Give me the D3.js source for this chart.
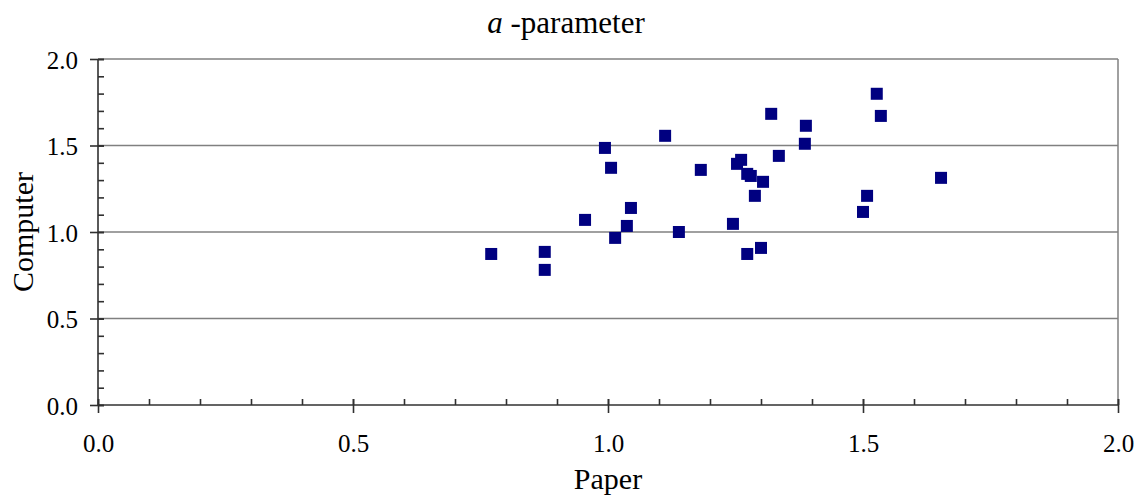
<!DOCTYPE html>
<html>
<head>
<meta charset="utf-8">
<script src="https://cdn.jsdelivr.net/npm/d3@7"></script>
<style>
  html, body { margin: 0; padding: 0; background: #fff; }
  svg { display: block; }
  svg text { font-family: 'Liberation Serif', 'Times New Roman', serif !important; fill: #000; }
</style>
</head>
<body>
<svg id="chart" width="1141" height="502"></svg>
<script>
// a-parameter estimates: paper-based vs computer-based
const paperValues = [
  0.771, 0.876, 0.876, 0.955, 0.994, 1.006, 1.014, 1.037, 1.045, 1.112,
  1.139, 1.182, 1.245, 1.253, 1.261, 1.273, 1.280, 1.304, 1.288, 1.273,
  1.300, 1.320, 1.335, 1.388, 1.386, 1.527, 1.535, 1.508, 1.500, 1.653
];
const computerValues = [
  0.873, 0.885, 0.781, 1.070, 1.486, 1.371, 0.966, 1.035, 1.139, 1.556,
  1.000, 1.359, 1.047, 1.394, 1.417, 1.336, 1.324, 1.290, 1.209, 0.873,
  0.908, 1.683, 1.440, 1.614, 1.510, 1.799, 1.671, 1.209, 1.116, 1.313
];
const majorTicks = [0.0, 0.5, 1.0, 1.5, 2.0];
const minorTicks = d3.range(0, 21).map(i => i / 10);
const titleItalic = "a";
const titleRest = " -parameter";
const xTitle = "Paper";
const yTitle = "Computer";

const svg = d3.select("#chart");
const plotLeft = 98, plotRight = 1118, plotTop = 59, plotBottom = 405;

const x = d3.scaleLinear().domain([0, 2]).range([plotLeft, plotRight]);
const y = d3.scaleLinear().domain([0, 2]).range([plotBottom, plotTop]);

const gridColor = "#808080";
const axisColor = "#303030";

// horizontal gridlines (skip the baseline)
svg.append("g").selectAll("line")
  .data(majorTicks.filter(d => d > 0))
  .join("line")
  .attr("x1", x(0)).attr("x2", x(2))
  .attr("y1", d => y(d)).attr("y2", d => y(d))
  .attr("stroke", gridColor).attr("stroke-width", 1.5);

// right frame edge
svg.append("line")
  .attr("x1", x(2)).attr("x2", x(2))
  .attr("y1", y(2)).attr("y2", y(0))
  .attr("stroke", gridColor).attr("stroke-width", 1.5);

// x axis: minor ticks point inward, major ticks cross the line
const xAxisMinor = d3.axisTop(x).tickValues(minorTicks).tickSize(6).tickFormat("");
const gxMinor = svg.append("g").attr("transform", `translate(0,${y(0)})`).call(xAxisMinor);
gxMinor.select(".domain").remove();

const xAxis = d3.axisBottom(x).tickValues(majorTicks).tickSize(8).tickPadding(21)
  .tickFormat(d3.format(".1f"));
const gx = svg.append("g").attr("transform", `translate(0,${y(0)})`).call(xAxis);
gx.select(".domain").attr("d", `M${x(0)},0H${x(2)}`);

// y axis
const yAxisMinor = d3.axisRight(y).tickValues(minorTicks).tickSize(6).tickFormat("");
const gyMinor = svg.append("g").attr("transform", `translate(${x(0)},0)`).call(yAxisMinor);
gyMinor.select(".domain").remove();

const yAxis = d3.axisLeft(y).tickValues(majorTicks).tickSize(8).tickPadding(12)
  .tickFormat(d3.format(".1f"));
const gy = svg.append("g").attr("transform", `translate(${x(0)},0)`).call(yAxis);
gy.select(".domain").attr("d", `M0,${y(0)}V${y(2)}`);

// major ticks extend slightly inside the plot too
gx.selectAll(".tick line").attr("y1", -6).attr("y2", 8);
gy.selectAll(".tick line").attr("x1", 6).attr("x2", -8);

svg.selectAll(".domain, .tick line")
  .attr("stroke", axisColor).attr("stroke-width", 1.6);
svg.selectAll(".tick text").attr("font-size", 25);
gx.selectAll(".tick text").attr("dy", "0.71em");
gy.selectAll(".tick text").attr("dy", "0.36em");

// data markers
const pts = paperValues.map((p, i) => ({ p, c: computerValues[i] }));
const size = 12;
svg.append("g").selectAll("rect")
  .data(pts)
  .join("rect")
  .attr("x", d => x(d.p) - size / 2)
  .attr("y", d => y(d.c) - size / 2)
  .attr("width", size).attr("height", size)
  .attr("fill", "#000080");

// titles
const title = svg.append("text")
  .attr("x", 566).attr("y", 33)
  .attr("text-anchor", "middle")
  .attr("font-size", 31);
title.append("tspan").attr("font-style", "italic").text(titleItalic);
title.append("tspan").text(titleRest);

svg.append("text")
  .attr("x", (plotLeft + plotRight) / 2).attr("y", 489)
  .attr("text-anchor", "middle")
  .attr("font-size", 30)
  .text(xTitle);

svg.append("text")
  .attr("transform", `translate(33,${(plotTop + plotBottom) / 2}) rotate(-90)`)
  .attr("text-anchor", "middle")
  .attr("font-size", 30)
  .text(yTitle);
</script>
</body>
</html>
